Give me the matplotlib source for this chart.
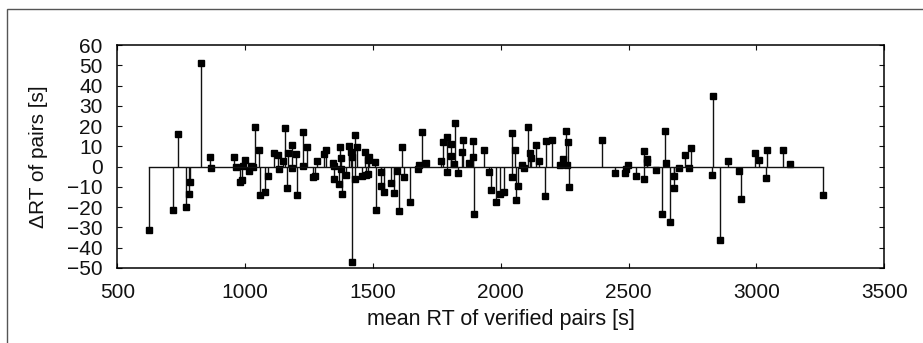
import matplotlib
matplotlib.use('Agg')
import matplotlib.pyplot as plt
from matplotlib.patches import Rectangle

plt.rcParams['font.family'] = ['Liberation Sans', 'DejaVu Sans']

# mean RT of verified pairs [s]
mean_rt = [
    625, 719, 739, 769, 780, 784, 828, 864, 868, 955,
    966, 978, 987, 992, 1000, 1017, 1022, 1032, 1040, 1053,
    1059, 1078, 1091, 1114, 1129, 1131, 1149, 1157, 1166, 1164,
    1182, 1184, 1200, 1201, 1227, 1228, 1242, 1264, 1274, 1281,
    1308, 1317, 1344, 1349, 1348, 1366, 1372, 1375, 1373, 1379,
    1395, 1407, 1413, 1416, 1419, 1428, 1431, 1438, 1456, 1470,
    1471, 1481, 1480, 1484, 1506, 1513, 1530, 1531, 1545, 1572,
    1584, 1595, 1600, 1612, 1623, 1645, 1677, 1680, 1690, 1708,
    1767, 1773, 1790, 1791, 1804, 1806, 1816, 1822, 1831, 1850,
    1853, 1874, 1891, 1892, 1896, 1935, 1953, 1963, 1982, 1996,
    2014, 2042, 2045, 2056, 2061, 2069, 2082, 2092, 2105, 2114,
    2117, 2136, 2151, 2172, 2176, 2202, 2230, 2242, 2256, 2258,
    2264, 2265, 2395, 2446, 2484, 2489, 2499, 2530, 2559, 2560,
    2571, 2573, 2605, 2630, 2644, 2645, 2663, 2677, 2676, 2696,
    2720, 2735, 2743, 2826, 2829, 2856, 2888, 2930, 2938, 2994,
    3008, 3040, 3039, 3102, 3133, 3260,
]

# delta RT of pairs [s]
delta_rt = [
    -31.3, -21.5, 16.0, -19.8, -13.4, -7.5, 51.2, 4.8, -0.6, 4.8,
    -0.3, -7.4, -6.8, 0.5, 3.2, -2.0, 0.5, -0.4, 19.5, 8.1,
    -14.0, -12.4, -4.5, 6.6, 5.8, -1.0, 2.9, 19.1, 6.8, -10.4,
    -0.5, 10.6, 6.2, -13.8, 17.0, 0.3, 9.8, -5.3, -4.4, 2.9,
    6.1, 8.3, 2.0, 0.4, -5.9, -8.8, 9.7, 4.3, -1.4, -13.3,
    -4.0, 10.2, 7.0, 4.8, -47.0, -6.0, 15.5, 9.8, -4.6, 7.3,
    -4.3, 3.2, -3.4, 4.8, 2.4, -21.4, -2.5, -9.5, -12.4, -8.0,
    -12.9, -2.2, -21.8, 9.8, -5.0, -17.4, -1.3, 0.8, 17.2, 1.8,
    2.9, 12.2, 14.5, -2.5, 5.2, 11.2, 1.3, 21.5, -3.3, 7.3,
    13.1, 2.0, 4.8, 12.7, -23.3, 8.3, -2.8, -11.4, -17.4, -13.4,
    -12.4, -5.0, 16.7, 8.3, -16.4, -9.5, 0.7, -0.8, 19.5, 6.6,
    4.2, 10.8, 2.7, -14.4, 12.6, 13.1, 1.0, 3.9, 17.5, 0.7,
    12.2, -10.0, 13.1, -3.0, -3.0, -1.4, 0.7, -4.5, 7.6, -6.0,
    3.9, 2.2, -1.5, -23.3, 17.5, 1.6, -27.2, -4.5, -10.5, -0.9,
    5.7, -0.9, 9.3, -4.0, 34.9, -36.4, 2.7, -2.1, -15.9, 6.8,
    3.3, 8.1, -5.5, 8.1, 1.5, -13.9,
]

x_ticks = [500, 1000, 1500, 2000, 2500, 3000, 3500]
y_ticks = [-50, -40, -30, -20, -10, 0, 10, 20, 30, 40, 50, 60]

fig = plt.figure(figsize=(9.23, 3.43), dpi=100)
ax = fig.add_axes([0.1271, 0.2187, 0.831, 0.6501])

markers, stems, base = ax.stem(mean_rt, delta_rt, linefmt='k-', markerfmt='ks', basefmt='k-')
plt.setp(stems, linewidth=1.0, color='#111111')
plt.setp(markers, markersize=4.2, color='black')
plt.setp(base, linewidth=1.0, color='#111111')

ax.set_xlim(500, 3500)
ax.set_ylim(-50, 60)
ax.set_xticks(x_ticks)
ax.set_yticks(y_ticks)
ax.tick_params(direction='in', top=True, right=True, length=3.5, width=0.8,
               labelsize=15, colors='#111111')
ax.tick_params(axis='y', pad=10.5)
ax.tick_params(axis='x', pad=11)
for s in ax.spines.values():
    s.set_linewidth(1.1)

ax.set_xlabel('mean RT of verified pairs [s]', fontsize=15.5, color='#111111', labelpad=5)
ax.set_ylabel('ΔRT of pairs [s]', fontsize=15, color='#111111', labelpad=14)

# outer frame (only left/top edges fall inside the picture)
top = 1 - 9 / 343
fig.patches.append(Rectangle((7 / 923, -0.2), 1.2, top + 0.2,
                             transform=fig.transFigure, fill=False,
                             edgecolor='#555555', linewidth=1.0))

fig.savefig('out.png', dpi=100, facecolor='white')
plt.close(fig)
